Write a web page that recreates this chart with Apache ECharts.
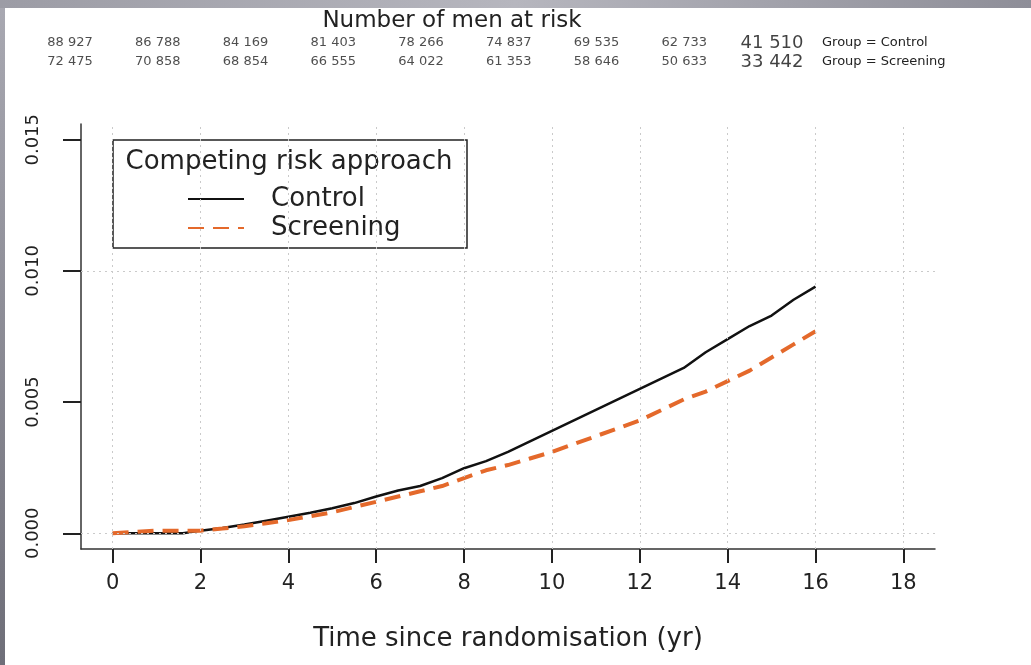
<!DOCTYPE html>
<html lang="en">

<head>
    <meta charset="UTF-8">
    <title>Competing risk approach</title>
    <script src="https://cdn.jsdelivr.net/npm/echarts@6/dist/echarts.min.js"></script>
    <style>
        html,
        body {
            margin: 0;
            padding: 0;
            background: #fff;
        }

        #chart {
            width: 1031px;
            height: 665px;
        }
    </style>
</head>

<body>
    <div id="chart"></div>
    <script>
        // axis ticks
        var xTicks = [0, 2, 4, 6, 8, 10, 12, 14, 16, 18];
        var yTicks = [0, 0.005, 0.010, 0.015];

        // number of men at risk (every 2 years from 0 to 16)
        var atRiskControl = [88927, 86788, 84169, 81403, 78266, 74837, 69535, 62733, 41510];
        var atRiskScreening = [72475, 70858, 68854, 66555, 64022, 61353, 58646, 50633, 33442];

        // cumulative incidence
        var controlTime = [0, 1.6, 2.0, 2.5, 3.0, 3.5, 4.0, 4.5, 5.0, 5.5, 6.0, 6.5, 7.0, 7.5, 8.0, 8.5, 9.0, 9.5, 10.0, 10.5, 11.0, 11.5, 12.0, 12.5, 13.0, 13.5, 14.0, 14.5, 15.0, 15.5, 16.0];
        var controlRisk = [0, 0, 0.0001, 0.0002, 0.00033, 0.00048, 0.00063, 0.00078, 0.00095, 0.00115, 0.0014, 0.00163, 0.0018, 0.0021, 0.00248, 0.00275, 0.0031, 0.0035, 0.0039, 0.0043, 0.0047, 0.0051, 0.0055, 0.0059, 0.0063, 0.0069, 0.0074, 0.0079, 0.0083, 0.0089, 0.0094];

        var screeningTime = [0, 0.5, 1.0, 1.5, 2.0, 2.5, 3.0, 3.5, 4.0, 4.5, 5.0, 5.5, 6.0, 6.5, 7.0, 7.5, 8.0, 8.5, 9.0, 9.5, 10.0, 10.5, 11.0, 11.5, 12.0, 12.5, 13.0, 13.5, 14.0, 14.5, 15.0, 15.5, 16.0];
        var screeningRisk = [0, 0.00005, 0.0001, 0.0001, 0.0001, 0.00018, 0.00027, 0.00038, 0.0005, 0.00065, 0.0008, 0.001, 0.0012, 0.0014, 0.0016, 0.0018, 0.0021, 0.0024, 0.0026, 0.00285, 0.0031, 0.0034, 0.0037, 0.004, 0.0043, 0.0047, 0.0051, 0.0054, 0.0058, 0.0062, 0.0067, 0.0072, 0.0077];

        var font = 'DejaVu Sans';
        var ink = '#222';

        function fmt(n) {
            return String(n).replace(/\B(?=(\d{3})+(?!\d))/g, ' ');
        }

        function pairs(xs, ys) {
            return xs.map(function(x, i) {
                return [x, ys[i]];
            });
        }

        function riskRow(values, row) {
            return values.map(function(n, i) {
                return [i, row, n];
            });
        }

        var riskLabel = {
            show: true,
            position: 'inside',
            color: '#222',
            fontFamily: font,
            formatter: function(p) {
                var last = p.dataIndex === atRiskControl.length - 1;
                return (last ? '{big|' : '{n|') + fmt(p.value[2]) + '}';
            },
            rich: {
                n: { fontSize: 13, fontFamily: font, color: '#222' },
                big: { fontSize: 18, fontFamily: font, color: '#111' }
            }
        };

        var gridLines = xTicks.map(function(v) {
            return { xAxis: v };
        }).concat(yTicks.map(function(v) {
            return { yAxis: v };
        }));

        var chart = echarts.init(document.getElementById('chart'));
        var option = {
            animation: false,
            backgroundColor: '#fff',
            textStyle: { fontFamily: font },
            grid: [
                { left: 81, right: 96, top: 124, bottom: 116, outerBoundsMode: 'none' },
                { left: 70, right: 259, top: 43, height: 19, outerBoundsMode: 'none' }
            ],
            xAxis: [{
                type: 'value',
                gridIndex: 0,
                min: -0.72,
                max: 18.72,
                axisLine: { show: true, onZero: false, lineStyle: { color: '#333', width: 1.5 } },
                axisTick: { show: true, customValues: xTicks, length: 14, lineStyle: { color: ink, width: 2 } },
                axisLabel: { show: true, customValues: xTicks, margin: 24, fontSize: 21, color: ink, fontFamily: font },
                splitLine: { show: false },
                name: 'Time since randomisation (yr)',
                nameLocation: 'middle',
                nameGap: 77,
                nameTextStyle: { fontSize: 26, color: ink, fontFamily: font }
            }, {
                type: 'value',
                gridIndex: 1,
                min: 0,
                max: 8,
                show: false
            }],
            yAxis: [{
                type: 'value',
                gridIndex: 0,
                min: -0.0006,
                max: 0.0156,
                axisLine: { show: true, onZero: false, lineStyle: { color: '#333', width: 1.5 } },
                axisTick: { show: true, customValues: yTicks, length: 18, lineStyle: { color: ink, width: 2 } },
                axisLabel: {
                    show: true,
                    customValues: yTicks,
                    rotate: 90,
                    margin: 39,
                    fontSize: 18,
                    color: ink,
                    fontFamily: font,
                    formatter: function(v) {
                        return v.toFixed(3);
                    }
                },
                splitLine: { show: false }
            }, {
                type: 'value',
                gridIndex: 1,
                min: 0,
                max: 1,
                show: false
            }],
            legend: {
                data: ['Control', 'Screening'],
                orient: 'vertical',
                left: 187,
                top: 186,
                padding: 0,
                itemWidth: 56,
                itemHeight: 14,
                itemGap: 3,
                selectedMode: false,
                itemStyle: { color: 'rgba(0,0,0,0)', borderColor: 'rgba(0,0,0,0)', borderWidth: 0, opacity: 0 },
                textStyle: { fontSize: 26, lineHeight: 22, color: ink, fontFamily: font, padding: [0, 0, 0, 22] }
            },
            graphic: [{
                type: 'rect',
                shape: { x: 0, y: 0, width: 5, height: 665 },
                style: {
                    fill: new echarts.graphic.LinearGradient(0, 0, 0, 1, [
                        { offset: 0, color: '#a9a9b2' },
                        { offset: 1, color: '#6e6e78' }
                    ])
                }
            }, {
                type: 'rect',
                shape: { x: 0, y: 0, width: 1031, height: 8 },
                style: {
                    fill: new echarts.graphic.LinearGradient(0, 0, 1, 0, [
                        { offset: 0, color: '#9c9ca5' },
                        { offset: 0.5, color: '#b6b6be' },
                        { offset: 1, color: '#8e8e98' }
                    ])
                }
            }, {
                type: 'text',
                x: 452,
                y: 21,
                style: { text: 'Number of men at risk', align: 'center', verticalAlign: 'middle', fontSize: 23, fontFamily: font, fill: ink }
            }, {
                type: 'text',
                x: 822,
                y: 43,
                style: { text: 'Group = Control', align: 'left', verticalAlign: 'middle', fontSize: 13, fontFamily: font, fill: '#222' }
            }, {
                type: 'text',
                x: 822,
                y: 62,
                style: { text: 'Group = Screening', align: 'left', verticalAlign: 'middle', fontSize: 13, fontFamily: font, fill: '#222' }
            }, {
                type: 'rect',
                z: 3,
                shape: { x: 113, y: 140, width: 354, height: 108 },
                style: { fill: '#fff', stroke: '#222', lineWidth: 1.5 }
            }, {
                type: 'text',
                z: 5,
                x: 289,
                y: 162,
                style: { text: 'Competing risk approach', align: 'center', verticalAlign: 'middle', fontSize: 26, fontFamily: font, fill: ink }
            }],
            series: [{
                name: 'grid',
                type: 'line',
                data: [],
                z: 1,
                markLine: {
                    silent: true,
                    symbol: ['none', 'none'],
                    label: { show: false },
                    lineStyle: { type: [2, 4], color: '#cacaca', width: 1 },
                    data: gridLines
                }
            }, {
                name: 'Control',
                type: 'line',
                data: pairs(controlTime, controlRisk),
                symbol: 'none',
                color: '#111',
                lineStyle: { color: '#111', width: 2.5 }
            }, {
                name: 'Screening',
                type: 'line',
                data: pairs(screeningTime, screeningRisk),
                symbol: 'none',
                color: '#e4692b',
                lineStyle: { color: '#e4692b', width: 4, type: [16, 9] }
            }, {
                name: 'at risk control',
                type: 'scatter',
                xAxisIndex: 1,
                yAxisIndex: 1,
                symbolSize: 1,
                itemStyle: { color: 'rgba(0,0,0,0)' },
                label: riskLabel,
                data: riskRow(atRiskControl, 1)
            }, {
                name: 'at risk screening',
                type: 'scatter',
                xAxisIndex: 1,
                yAxisIndex: 1,
                symbolSize: 1,
                itemStyle: { color: 'rgba(0,0,0,0)' },
                label: riskLabel,
                data: riskRow(atRiskScreening, 0)
            }]
        };
        chart.setOption(option);
    </script>
</body>

</html>
